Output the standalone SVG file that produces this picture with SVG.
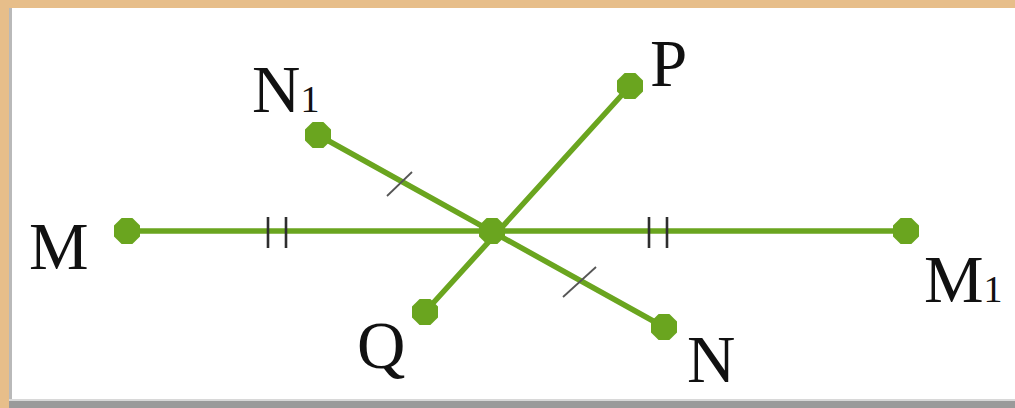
<svg xmlns="http://www.w3.org/2000/svg" width="1015" height="408" viewBox="0 0 1015 408">
<style>
.seg{stroke:#6aa51f;stroke-width:5.5;stroke-linecap:round;fill:none}
.pt{fill:#6aa51f}
.tick{stroke:#2e2e2e;stroke-width:2.6;fill:none}
.tick2{stroke:#555;stroke-width:1.8;fill:none}
.lbl{font-family:"Liberation Serif","Times New Roman",serif;font-size:67px;fill:#111}
.sub{font-size:38px}
</style>
<defs>
<polygon id="oct" points="13,-5.4 5.4,-13 -5.4,-13 -13,-5.4 -13,5.4 -5.4,13 5.4,13 13,5.4"/>
</defs>
<rect x="0" y="0" width="1015" height="408" fill="#e7be8a"/>
<rect x="9" y="8" width="1006" height="400" fill="#ffffff"/>
<rect x="9" y="8" width="3" height="394" fill="#b9b9b9"/>
<rect x="9" y="401" width="1006" height="7" fill="#9a9a9a"/>
<rect x="9" y="399" width="1006" height="2" fill="#d8d8d8"/>
<g id="connectors">
<line class="seg" x1="127" y1="231" x2="906" y2="231"/>
<line class="seg" x1="318" y1="135" x2="664" y2="327"/>
<line class="seg" x1="630" y1="86" x2="425" y2="312"/>
<line class="tick" x1="268" y1="217" x2="268" y2="248"/>
<line class="tick" x1="286" y1="217" x2="286" y2="248"/>
<line class="tick" x1="649" y1="217" x2="649" y2="248"/>
<line class="tick" x1="667" y1="217" x2="667" y2="248"/>
<line class="tick2" x1="387" y1="196" x2="412" y2="172"/>
<line class="tick2" x1="563" y1="297" x2="596" y2="267"/>
</g>
<g id="node-M"><use href="#oct" class="pt" x="127" y="231"/><text class="lbl" x="29" y="269">M</text></g>
<g id="node-M1"><use href="#oct" class="pt" x="906" y="231"/><text class="lbl" x="924" y="302">M<tspan class="sub">1</tspan></text></g>
<g id="node-N1"><use href="#oct" class="pt" x="318" y="135"/><text class="lbl" x="252" y="112">N<tspan class="sub">1</tspan></text></g>
<g id="node-N"><use href="#oct" class="pt" x="664" y="327"/><text class="lbl" x="687" y="382">N</text></g>
<g id="node-P"><use href="#oct" class="pt" x="630" y="86"/><text class="lbl" x="650" y="86">P</text></g>
<g id="node-Q"><use href="#oct" class="pt" x="425" y="312"/><text class="lbl" x="357" y="368">Q</text></g>
<g id="node-O"><use href="#oct" class="pt" x="492" y="231"/></g>
</svg>
